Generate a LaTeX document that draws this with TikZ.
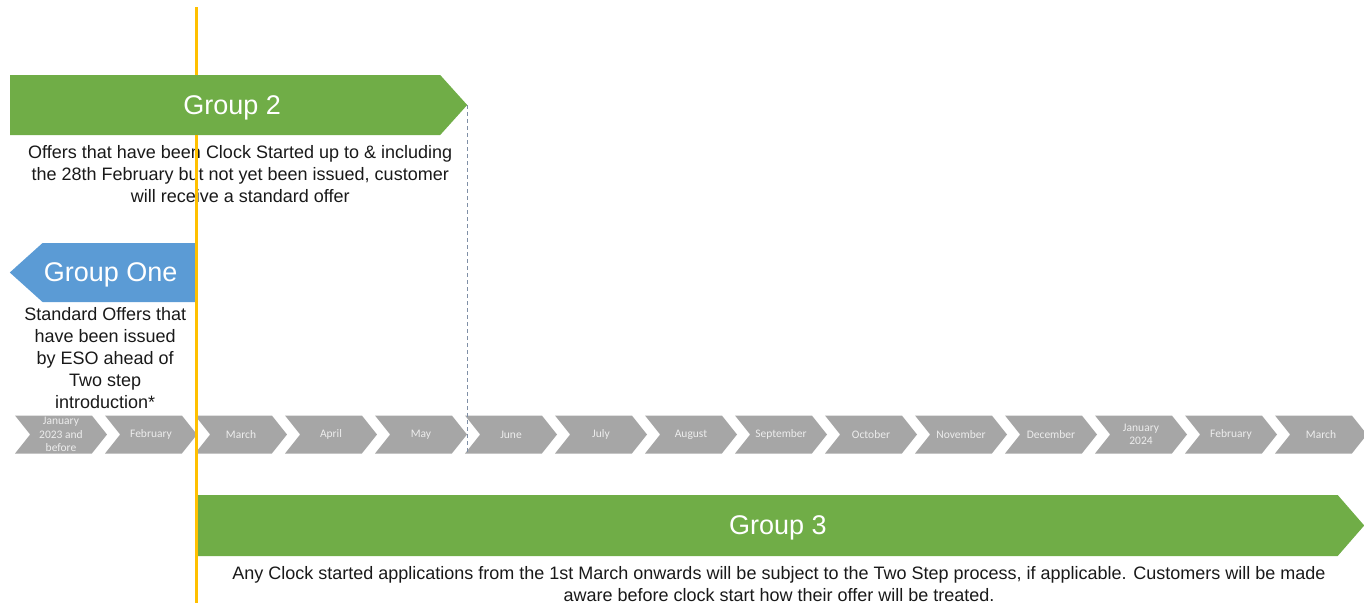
\documentclass[tikz,border=0pt]{standalone}
\usepackage{fontspec}
\setmainfont{Liberation Sans}
\newfontfamily\monthfont{Carlito}
\usetikzlibrary{positioning,shapes.symbols}

\definecolor{grpgreen}{HTML}{70AD47}
\definecolor{grpblue}{HTML}{5B9BD5}
\definecolor{cutoff}{HTML}{FFC000}
\definecolor{monthgray}{HTML}{A6A6A6}
\definecolor{markgray}{HTML}{7F8FA6}

\begin{document}
\begin{tikzpicture}[x=1pt, y=-1pt,
    group/.style={
        signal,
        fill=grpgreen,
        text=white,
        inner sep=0pt,
        text depth=0pt,
        minimum height=60pt,
        font=\fontsize{27}{30}\selectfont
    },
    month/.style={
        signal,
        signal from=west,
        signal to=east,
        signal pointer angle=103,
        fill=monthgray,
        text=white!93!black,
        align=center,
        inner sep=0pt,
        minimum width=92pt,
        minimum height=38pt,
        font=\monthfont\fontsize{11.5}{13.5}\selectfont
    },
    desc/.style={
        align=center,
        inner sep=0pt,
        text=black!90,
        font=\fontsize{18}{22}\selectfont
    },
    cutline/.style={draw=cutoff, line width=3pt},
    markline/.style={draw=markgray, line width=1pt, dash pattern=on 4pt off 3pt}
]
\useasboundingbox (0,0) rectangle (1364,603);

% ===== TIMELINE ROW =====
\foreach \i/\lab in {0/{January\\2023 and\\before}, 1/February, 2/March, 3/April,
    4/May, 5/June, 6/July, 7/August, 8/September, 9/October, 10/November,
    11/December, 12/{January\\2024}, 13/February, 14/March}
    \node[month] (m\i) at (61+90*\i, 434.5) {\lab};

% ===== GROUPS =====
\node[group, signal to=east, signal pointer angle=96, minimum width=457pt,
    anchor=west] (g2) at (10,105) {\hspace*{14pt}Group 2};
\node[desc, below=10pt of g2, xshift=15pt] (g2desc) {Offers that have been Clock Started up to \& including\\
    the 28th February but not yet been issued, customer\\
    will receive a standard offer};

\node[group, signal to=west, signal pointer angle=84, fill=grpblue, minimum width=186pt,
    minimum height=59pt, anchor=east] (g1) at (196,272.5) {Group One\hspace*{17pt}};
\node[desc, below=5pt of g1, xshift=-14pt] (g1desc) {Standard Offers that\\have been issued\\
    by ESO ahead of\\Two step\\introduction*};

\node[group, signal to=east, signal pointer angle=98, minimum width=1168pt,
    minimum height=61pt, anchor=west] (g3) at (196,525.5) {\hspace*{22pt}Group 3};
\node[desc, below=10pt of g3, xshift=12pt] (g3desc) {Any Clock started applications from the 1st March onwards
    will be subject to the Two Step process, if applicable. Customers will be made\\
    aware before clock start how their offer will be treated.};

% ===== CUT-OFF MARKERS =====
\coordinate (cuttop) at (196,7);
\coordinate (cutbot) at (196,603);
\draw[markline] (g2.east) -- (g2.east |- m5.south);
\draw[cutline] (cuttop) -- (cuttop |- g2.north);
\draw[cutline] (cuttop |- g2.south) -- (cutbot);

\end{tikzpicture}
\end{document}
